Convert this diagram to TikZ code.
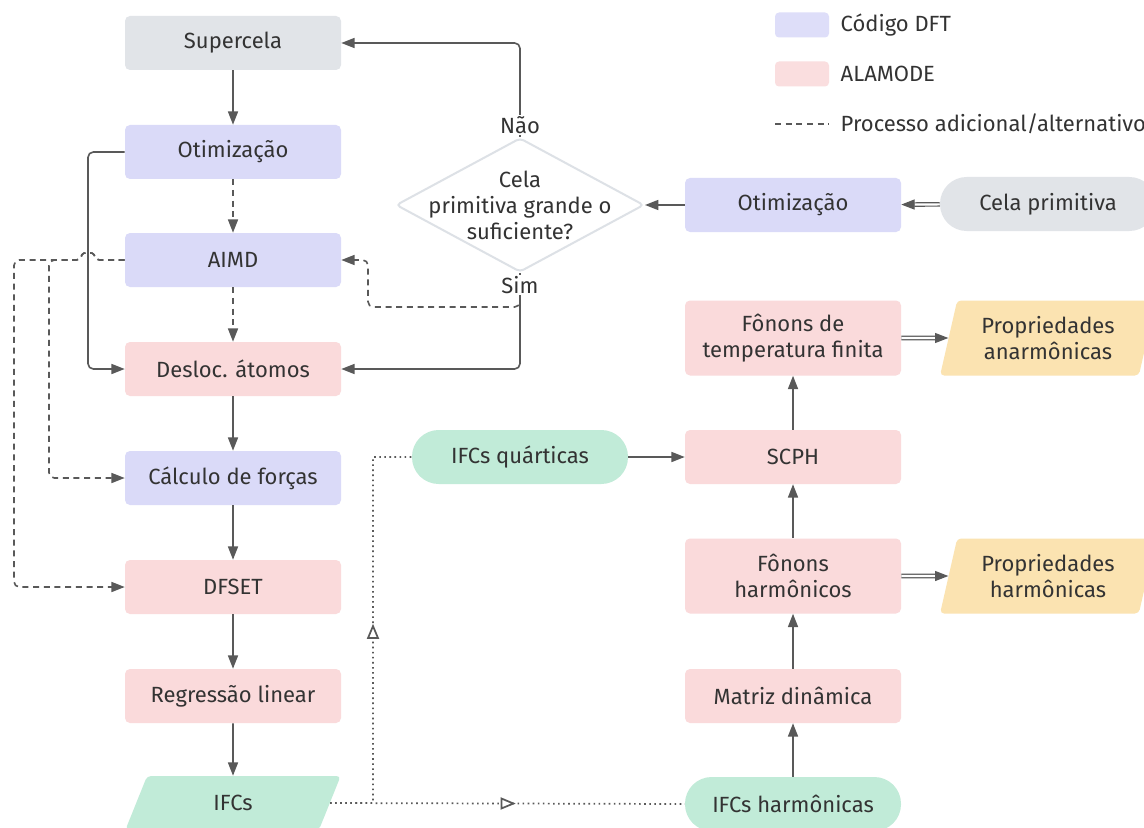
\documentclass[tikz,border=0pt]{standalone}
\usepackage{fontspec}
\setmainfont{Fira Sans}
\usetikzlibrary{arrows.meta,shapes.geometric,decorations.markings,calc}
\definecolor{cgray}{HTML}{E1E4E8}
\definecolor{cblue}{HTML}{DADAF8}
\definecolor{cpink}{HTML}{FADADB}
\definecolor{cgreen}{HTML}{C1EBD8}
\definecolor{cyellow}{HTML}{FBE3B1}
\definecolor{cline}{HTML}{595959}
\definecolor{ctext}{HTML}{333333}
\definecolor{cdiam}{HTML}{DDE1E6}
\begin{document}
\begin{tikzpicture}[x=0.75pt,y=-0.75pt,
 every node/.style={font=\fontsize{16.5pt}{19.5pt}\selectfont, text=ctext},
 box/.style={rectangle, rounded corners=3.75pt, minimum width=162pt, minimum height=40.5pt, align=center, inner sep=2pt},
 tallbox/.style={box, minimum height=56.25pt},
 dftbox/.style={box, fill=cblue},
 almbox/.style={box, fill=cpink},
 almtall/.style={tallbox, fill=cpink},
 graybox/.style={box, fill=cgray},
 pill/.style={box, rounded corners=20pt},
 para/.style={trapezium, trapezium left angle=75, trapezium right angle=105, trapezium stretches=true, minimum width=162pt, align=center, inner sep=2pt, rounded corners=3pt},
 conn/.style={draw=cline, line width=1.2pt, rounded corners=4pt, -{Triangle[length=10pt,width=7.5pt]}},
 dashconn/.style={conn, dash pattern=on 4.5pt off 3.5pt},
 dblconn/.style={draw=cline, line width=0.9pt, double=white, double distance=1.6pt, -{Triangle[length=10pt,width=7.5pt]}},
 midtri/.style={decoration={markings, mark=at position 0.5 with {\draw[solid, draw=cline, line width=1.3pt, fill=white] (-4.5pt,-3.75pt) -- (4.5pt,0pt) -- (-4.5pt,3.75pt) -- cycle;}},
   postaction={decorate}},
 dotconn/.style={draw=cline, line width=1.3pt, dash pattern=on 1.2pt off 2.6pt, midtri},
 lab/.style={fill=white, inner sep=1pt},
 legbox/.style={rectangle, rounded corners=3pt, minimum width=40.5pt, minimum height=18.75pt, inner sep=0pt}
]
\useasboundingbox[fill=white] (0,0) rectangle (1144,827);

% left column
\node[graybox] (sup) at (233,43) {Supercela};
\node[dftbox] (ot1) at (233,152) {Otimização};
\node[dftbox] (aimd) at (233,260) {AIMD};
\node[almbox] (des) at (233,369) {Desloc. átomos};
\node[dftbox] (calc) at (233,478) {Cálculo de forças};
\node[almbox] (dfs) at (233,587) {DFSET};
\node[almbox] (reg) at (233,696) {Regressão linear};
\node[para, fill=cgreen, minimum height=40.5pt] (ifcs) at (233,803) {IFCs};

% decision
\node[diamond, draw=cdiam, fill=white, line width=1.5pt, minimum width=186pt, minimum height=100.5pt, inner sep=0pt, rounded corners=3pt] (dec) at (520,205) {};
\node[align=center] (dect) at (dec.center) {Cela\\primitiva grande o\\suficiente?};

% right side
\node[dftbox] (ot2) at (793,205) {Otimização};
\node[pill, fill=cgray] (cela) at (1048,204) {Cela primitiva};
\node[almtall] (ft) at (793,338) {Fônons de\\temperatura finita};
\node[para, fill=cyellow, minimum height=56.25pt] (pa) at (1048,338) {Propriedades\\anarmônicas};
\node[almbox] (scph) at (793,457) {SCPH};
\node[pill, fill=cgreen] (iq) at (520,457) {IFCs quárticas};
\node[almtall] (fh) at (793,576) {Fônons\\harmônicos};
\node[para, fill=cyellow, minimum height=56.25pt] (ph) at (1048,576) {Propriedades\\harmônicas};
\node[almbox] (md) at (793,696) {Matriz dinâmica};
\node[pill, fill=cgreen] (ih) at (793,804) {IFCs harmônicas};

% legend
\node[legbox, fill=cblue!90!white] (lg1) at (802,25) {};
\node[anchor=west] (lt1) at (836,25) {Código DFT};
\node[legbox, fill=cpink!90!white] (lg2) at (802,74) {};
\node[anchor=west] (lt2) at (836,74) {ALAMODE};
\coordinate (lg3a) at (775,124);
\coordinate (lg3b) at (829,124);
\draw[draw=cline, line width=1.2pt, dash pattern=on 4.5pt off 3.5pt] (lg3a) -- (lg3b);
\node[anchor=west] (lt3) at (836,124) {Processo adicional/alternativo};

% connectors left
\draw[conn] (sup) -- (ot1);
\draw[dashconn] (ot1) -- (aimd);
\draw[dashconn] (aimd) -- (des);
\draw[conn] (ot1.west) -- (88,152) -- (88,369) -- (des.west);
\draw[conn] (des) -- (calc);
\draw[conn] (calc) -- (dfs);
\draw[conn] (dfs) -- (reg);
\draw[conn] (reg) -- (ifcs);
\draw[dashconn] (aimd.west) -- (94,260) .. controls (94,252) and (82,252) .. (82,260) -- (14,260) -- (14,587) -- (dfs.west);
\draw[dashconn] (aimd.west) -- (94,260) .. controls (94,252) and (82,252) .. (82,260) -- (49,260) -- (49,478) -- (calc.west);

% decision connectors
\draw[conn] (dec.north) -- (dec.north |- sup.east) -- (sup.east);
\draw[conn] (dec.south) -- (dec.south |- des.east) -- (des.east);
\draw[dashconn] (dec.south) -- (520,307) -- (368,307) -- (368,260) -- (aimd.east);
\node[lab] (nao) at (520,125) {Não};
\node[lab] (sim) at (520,285) {Sim};

% right connectors
\draw[conn] (ot2) -- (dec.east);
\draw[dblconn] (cela) -- (ot2);
\draw[dblconn] (ft) -- (pa);
\draw[dblconn] (fh) -- (ph);
\draw[conn] (scph) -- (ft);
\draw[conn] (iq) -- (scph);
\draw[conn] (fh) -- (scph);
\draw[conn] (md) -- (fh);
\draw[conn] (ih) -- (md);

% dotted
\draw[dotconn] (ifcs.east) -- (373,803) -- (373,457) -- (iq.west);
\draw[dotconn] (ifcs.east) -- (ih.west);
\end{tikzpicture}
\end{document}
